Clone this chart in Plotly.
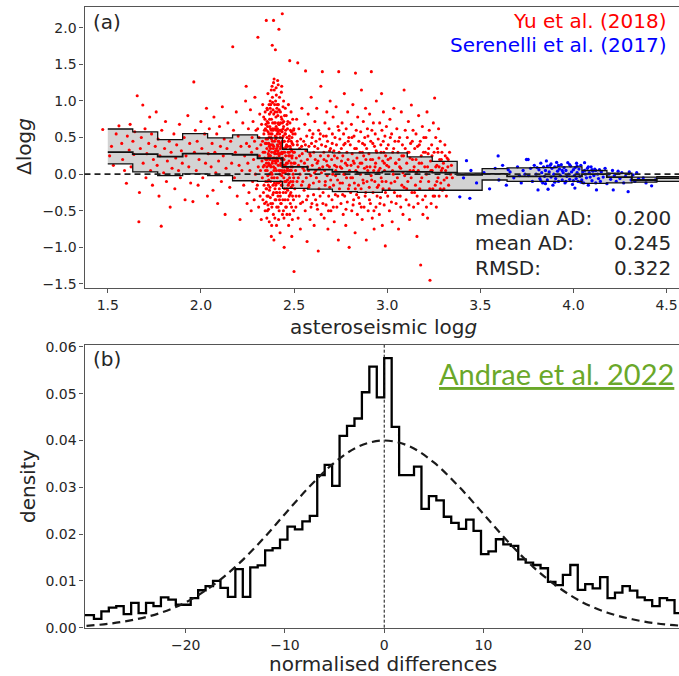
import numpy as np
import plotly.graph_objects as go

# ---------------- data: panel (a) ----------------
red_points = [
    (1.473,0.61),(1.52,0.38),(1.53,0.12),(1.545,0.55),(1.51,0.25),
    (1.56,0.66),(1.575,0.42),(1.58,0.2),(1.59,0.05),(1.60,-0.125),(1.605,0.52),(1.615,0.33),(1.62,0.68),(1.625,0.1),(1.635,0.45),(1.64,0.27),(1.645,0.58),
    (1.658,1.07),(1.667,-0.65),(1.67,-0.25),(1.675,0.35),(1.68,0.5),(1.688,0.945),(1.69,0.15),(1.70,0.62),(1.705,-0.05),(1.71,0.28),(1.72,0.42),(1.725,0.78),(1.73,0.05),(1.735,0.55),(1.74,-0.15),(1.745,0.2),
    (1.755,0.38),(1.76,0.85),(1.765,0.12),(1.77,0.48),(1.775,-0.3),(1.78,0.25),(1.787,-0.71),(1.79,0.6),(1.80,0.02),(1.805,0.35),(1.81,0.72),(1.815,-0.1),(1.82,0.18),(1.83,0.45),(1.835,-0.45),(1.84,0.3),(1.845,0.08),
    (1.855,0.55),(1.86,-0.2),(1.865,0.22),(1.87,0.4),(1.88,0.05),(1.885,0.68),(1.89,-0.05),(1.895,0.32),(1.90,0.15),(1.91,0.5),(1.915,-0.35),(1.92,0.25),(1.93,0.8),(1.935,0.1),(1.94,0.42),(1.945,-0.12),
    (1.957,-0.375),(1.962,1.26),(1.965,0.3),(1.97,0.6),(1.975,0.05),(1.98,0.45),(1.985,-0.15),(1.99,0.2),(2.0,0.72),(2.005,0.35),(2.01,-0.05),(2.02,0.55),(2.025,0.15),(2.03,0.9),(2.035,-0.3),(2.04,0.28),(2.045,0.62),
    (2.055,0.1),(2.06,0.42),(2.065,-0.22),(2.07,0.78),(2.075,0.3),(2.08,0.02),(2.085,0.55),(2.09,-0.4),(2.095,0.18),(2.10,0.65),(2.105,0.38),(2.11,-0.1),(2.115,0.92),(2.12,0.25),(2.125,0.48),(2.13,-0.55),(2.135,0.08),(2.14,0.35),(2.145,0.7),
    (2.155,-0.18),(2.16,0.45),(2.165,0.15),(2.171,1.74),(2.175,0.6),(2.18,-0.05),(2.185,0.3),(2.19,0.85),(2.195,-0.3),(2.20,0.52),(2.205,0.12),(2.21,-0.62),(2.215,0.38),(2.22,0.05),(2.225,0.7),(2.23,-0.15),(2.235,0.25),(2.24,1.0),(2.243,1.2),(2.245,0.42),(2.248,-0.4),
    (2.252,0.15),(2.255,0.62),(2.258,-0.25),(2.26,0.38),(2.263,0.05),(2.266,0.88),(2.27,-0.5),(2.272,0.3),(2.275,0.5),(2.278,-0.1),(2.28,0.72),(2.283,0.2),(2.286,-0.35),(2.288,0.45),(2.29,1.05),(2.293,0.0),(2.296,0.6),(2.298,-0.2),
    (2.301,0.35),(2.303,-0.15),(2.305,0.62),(2.306,1.87),(2.308,0.1),(2.31,-0.45),(2.312,0.5),(2.314,0.25),(2.316,0.82),(2.318,-0.3),(2.32,0.05),(2.322,0.4),(2.324,-0.62),(2.326,0.68),(2.328,0.18),(2.33,-0.05),(2.332,0.95),(2.334,0.3),(2.336,-0.25),(2.338,0.55),(2.34,0.12),(2.342,-0.4),(2.344,0.75),(2.346,0.42),(2.348,-0.1),(2.349,0.2),
    (2.351,2.10),(2.352,0.6),(2.353,-0.2),(2.354,0.35),(2.355,0.9),(2.356,0.05),(2.357,-0.5),(2.358,0.48),(2.359,0.22),(2.36,1.1),(2.361,-0.3),(2.362,0.7),(2.363,0.15),(2.364,-0.08),(2.365,0.55),(2.366,0.32),(2.367,-0.65),(2.368,0.82),(2.369,0.0),(2.37,0.4),(2.371,-0.18),(2.372,1.0),(2.373,0.25),(2.374,0.62),(2.375,-0.4),(2.376,0.1),(2.377,0.5),(2.378,-0.85),(2.379,0.75),(2.38,0.3),(2.381,-0.05),(2.382,1.2),(2.383,1.76),(2.384,0.45),(2.385,0.18),(2.386,-0.28),(2.387,0.88),(2.388,0.6),(2.389,-0.55),(2.39,2.10),(2.391,0.38),(2.392,0.05),(2.393,1.3),(2.394,0.7),(2.395,-0.12),(2.396,0.95),(2.397,0.28),(2.398,-0.35),(2.399,0.52),(2.40,1.70),
    (2.352,0.15),(2.356,0.72),(2.36,-0.42),(2.364,0.42),(2.368,-0.22),(2.372,0.12),(2.376,0.85),(2.38,-0.7),(2.384,1.05),(2.388,0.22),(2.392,-0.9),(2.396,0.62),(2.358,-0.1),(2.366,0.95),(2.374,0.35),(2.382,0.55),(2.39,-0.25),(2.398,0.08),(2.354,-0.6),(2.37,0.65),(2.386,0.4),(2.394,1.15),(2.362,0.28),(2.378,0.02),(2.35,0.48),
    (2.401,0.32),(2.402,-0.15),(2.403,0.78),(2.404,1.18),(2.405,0.05),(2.406,0.5),(2.407,-0.45),(2.408,0.9),(2.409,0.2),(2.41,-0.05),(2.411,0.62),(2.412,1.28),(2.413,0.38),(2.414,-0.3),(2.415,0.12),(2.416,0.7),(2.417,-0.62),(2.418,0.45),(2.419,1.98),(2.42,0.25),(2.421,-0.2),(2.422,1.05),(2.423,0.55),(2.424,0.0),(2.425,-0.8),(2.426,0.35),(2.427,0.85),(2.428,-0.1),(2.429,0.6),(2.43,0.15),(2.431,-0.4),(2.432,1.12),(2.433,0.42),(2.434,-0.02),(2.435,0.75),(2.436,0.28),(2.437,2.19),(2.438,-0.55),(2.439,0.5),(2.44,0.1),(2.441,0.92),(2.442,-0.25),(2.443,0.3),(2.444,0.65),(2.445,-0.05),(2.446,0.2),(2.447,-1.0),(2.448,0.45),(2.449,0.8),
    (2.404,0.65),(2.408,-0.25),(2.412,0.18),(2.416,0.95),(2.42,-0.5),(2.424,0.42),(2.428,0.7),(2.432,-0.15),(2.436,0.58),(2.44,-0.35),(2.444,1.0),(2.448,0.05),(2.402,0.48),(2.406,-0.7),(2.41,0.85),(2.414,0.32),(2.418,-0.12),(2.422,0.6),(2.426,-0.3),(2.43,0.38),(2.434,1.2),(2.438,0.22),(2.442,0.52),(2.446,-0.6),(2.45,0.3),
    (2.451,0.12),(2.452,-0.35),(2.454,0.55),(2.455,0.25),(2.457,-0.1),(2.458,0.8),(2.46,0.4),(2.462,-0.55),(2.463,0.05),(2.465,0.62),(2.466,-0.22),(2.468,0.3),(2.47,0.95),(2.471,-0.7),(2.473,0.18),(2.474,0.48),(2.476,-0.05),(2.477,1.55),(2.478,0.7),(2.48,-0.4),(2.482,0.35),(2.483,0.1),(2.485,-0.18),(2.486,0.58),(2.488,-0.85),(2.489,0.22),(2.49,0.42),(2.492,-0.3),(2.493,0.75),(2.495,0.0),(2.496,0.3),(2.498,-0.5),(2.499,0.15),(2.50,-1.33),
    (2.453,0.9),(2.459,-0.45),(2.464,0.15),(2.469,-0.15),(2.475,0.52),(2.481,0.05),(2.487,0.32),(2.491,-0.62),(2.497,0.6),(2.456,-0.25),(2.467,0.72),(2.479,-0.28),(2.484,0.85),(2.494,-0.1),
    (2.331,0.45),(2.333,-0.35),(2.335,0.1),(2.337,0.78),(2.339,-0.15),(2.341,0.6),(2.343,0.3),(2.345,-0.5),(2.347,0.05),(2.349,0.68),
    (2.351,-0.38),(2.353,0.42),(2.355,0.2),(2.357,0.88),(2.359,-0.02),(2.361,0.58),(2.363,-0.48),(2.365,0.12),(2.367,0.38),(2.369,0.75),
    (2.371,0.25),(2.373,-0.32),(2.375,0.95),(2.377,0.02),(2.379,0.48),(2.381,-0.45),(2.383,0.15),(2.385,0.7),(2.387,-0.15),(2.389,0.35),
    (2.391,0.82),(2.393,-0.05),(2.395,0.45),(2.397,-0.6),(2.399,0.18),(2.401,1.0),(2.403,-0.35),(2.405,0.6),(2.407,0.22),(2.409,-0.12),
    (2.411,0.4),(2.413,0.8),(2.415,-0.45),(2.417,0.28),(2.419,0.05),(2.421,0.68),(2.423,-0.25),(2.425,0.5),(2.427,0.12),(2.429,-0.4),
    (2.431,0.78),(2.433,0.2),(2.435,-0.15),(2.437,0.45),(2.439,0.02),(2.441,0.62),(2.443,-0.5),(2.445,0.35),(2.447,0.1),(2.449,-0.2),
    (2.451,0.55),(2.453,0.02),(2.455,-0.45),(2.457,0.38),(2.459,0.15),(2.461,-0.2),(2.463,0.68),(2.465,0.08),(2.467,-0.35),(2.469,0.45),
    (2.471,0.25),(2.473,-0.12),(2.475,0.05),(2.477,-0.55),(2.479,0.38),(2.481,0.6),(2.483,-0.25),(2.485,0.15),(2.487,-0.45),(2.489,0.5),
    (2.491,0.1),(2.493,-0.15),(2.495,0.4),(2.497,-0.35),(2.499,0.62),
    (2.372,0.9),(2.378,1.15),(2.385,0.98),(2.39,1.25),(2.398,0.85),(2.405,1.08),(2.41,0.95),(2.415,1.22),(2.42,0.88),(2.378,0.6),(2.4,0.7),(2.41,0.55),
    (2.342,0.22),(2.346,0.62),(2.35,-0.2),(2.354,0.1),(2.358,0.65),(2.362,-0.15),(2.366,0.5),(2.37,0.2),(2.374,-0.1),(2.378,0.4),
    (2.382,0.0),(2.386,0.62),(2.39,0.1),(2.394,0.3),(2.398,-0.2),(2.402,0.15),(2.406,0.35),(2.41,0.28),(2.414,0.58),(2.418,0.68),
    (2.422,-0.35),(2.426,0.05),(2.43,0.6),(2.434,0.3),(2.438,0.7),(2.442,0.12),(2.446,0.45),(2.45,-0.1),(2.454,0.35),(2.458,0.1),
    (2.462,0.5),(2.466,0.38),(2.47,0.0),(2.474,-0.3),(2.478,0.25),(2.482,-0.1),(2.486,0.05),(2.49,0.25),(2.494,0.55),(2.498,-0.05),
    (2.345,0.85),(2.355,-0.3),(2.365,0.25),(2.375,0.55),(2.385,-0.4),(2.395,0.22),(2.405,-0.25),(2.415,0.45),(2.425,0.28),(2.435,0.05),
    (2.445,0.72),(2.455,0.6),(2.465,-0.08),(2.475,0.3),(2.485,0.45),
    (2.502,0.3),(2.504,-0.2),(2.506,0.55),(2.508,0.05),(2.51,-0.45),(2.512,0.22),(2.514,0.75),(2.516,-0.1),(2.518,0.4),(2.52,1.52),(2.522,-0.6),(2.524,0.12),(2.526,0.62),(2.528,-0.3),(2.53,0.35),(2.532,0.0),(2.534,-0.75),(2.536,0.48),(2.538,0.18),(2.54,-0.15),(2.542,0.9),(2.544,0.28),(2.546,-0.38),(2.548,0.08),
    (2.552,0.45),(2.554,-0.22),(2.556,0.15),(2.558,0.68),(2.56,-0.5),(2.562,1.41),(2.564,0.32),(2.566,-0.05),(2.568,0.52),(2.57,-0.92),(2.572,0.2),(2.574,-0.3),(2.576,0.82),(2.578,0.05),(2.58,0.38),(2.582,-0.15),(2.584,0.6),(2.586,-0.62),(2.588,0.25),(2.59,-0.02),(2.592,1.05),(2.594,0.42),(2.596,-0.4),(2.598,0.12),
    (2.602,0.55),(2.604,-0.12),(2.606,0.3),(2.608,-0.7),(2.61,0.02),(2.612,0.72),(2.614,0.2),(2.616,-0.35),(2.618,0.45),(2.62,-0.05),(2.622,0.9),(2.624,0.15),(2.626,-0.48),(2.628,0.35),(2.63,-1.05),(2.632,0.6),(2.634,-0.2),(2.636,0.08),(2.638,0.48),(2.64,-0.3),(2.642,0.25),(2.644,1.2),(2.646,-0.55),(2.648,0.4),
    (2.652,1.40),(2.654,0.1),(2.656,-0.25),(2.658,0.52),(2.66,0.3),(2.662,-0.6),(2.664,0.05),(2.666,0.7),(2.668,-0.1),(2.67,0.38),(2.672,-0.42),(2.674,0.18),(2.676,0.85),(2.678,-0.02),(2.68,0.45),(2.682,-0.75),(2.684,0.25),(2.686,-0.3),(2.688,0.62),(2.69,0.1),(2.692,-0.18),(2.694,1.0),(2.696,0.35),(2.698,-0.5),
    (2.702,0.2),(2.704,-0.35),(2.706,0.55),(2.708,0.0),(2.71,0.78),(2.712,-0.15),(2.714,0.32),(2.716,-0.65),(2.718,0.12),(2.72,0.5),(2.722,-0.28),(2.724,0.05),(2.726,0.92),(2.728,0.4),(2.73,-0.45),(2.732,0.22),(2.734,-0.08),(2.736,0.65),(2.738,-0.9),(2.74,1.40),(2.742,0.3),(2.744,-0.2),(2.746,0.48),(2.748,0.1),
    (2.752,-0.4),(2.754,0.35),(2.756,0.08),(2.758,0.7),(2.76,-0.12),(2.762,0.25),(2.764,-0.55),(2.766,0.55),(2.768,0.0),(2.77,1.1),(2.772,-0.3),(2.774,0.42),(2.776,0.15),(2.778,-0.7),(2.78,0.62),(2.782,-0.05),(2.784,0.3),(2.786,-0.38),(2.788,0.85),(2.79,0.2),(2.792,-0.2),(2.794,0.5),(2.796,-1.0),(2.798,0.05),
    (2.802,0.4),(2.804,-0.25),(2.806,0.12),(2.808,0.68),(2.81,-0.5),(2.812,0.28),(2.814,-0.05),(2.816,0.95),(2.818,0.18),(2.82,-0.35),(2.822,0.52),(2.824,-0.12),(2.826,0.35),(2.828,-0.8),(2.83,1.38),(2.832,0.05),(2.834,0.6),(2.836,-0.28),(2.838,0.22),(2.84,-0.55),(2.842,0.78),(2.844,0.1),(2.846,-0.15),(2.848,0.45),
    (2.852,-0.4),(2.854,0.3),(2.856,0.0),(2.858,0.58),(2.86,-0.2),(2.862,1.15),(2.864,0.15),(2.866,-0.62),(2.868,0.42),(2.87,-0.08),(2.872,0.72),(2.874,0.25),(2.876,-0.45),(2.878,0.08),(2.88,0.5),(2.882,-0.3),(2.884,0.9),(2.886,0.2),(2.888,-0.9),(2.89,0.35),(2.892,-0.1),(2.894,0.62),(2.896,0.05),(2.898,-0.5),
    (2.902,0.28),(2.904,-0.18),(2.906,0.82),(2.908,0.1),(2.91,-0.4),(2.912,0.45),(2.914,-0.02),(2.915,1.40),(2.918,0.6),(2.92,-0.6),(2.922,0.2),(2.924,-0.25),(2.926,0.7),(2.928,0.05),(2.93,-0.75),(2.932,0.38),(2.934,-0.1),(2.936,0.55),(2.938,0.15),(2.94,-0.45),(2.942,1.0),(2.944,0.3),(2.946,-0.3),(2.948,0.02),
    (2.952,0.48),(2.954,-0.15),(2.956,0.22),(2.958,-0.55),(2.96,0.7),(2.962,0.08),(2.964,-0.32),(2.966,0.4),(2.968,-0.05),(2.97,1.10),(2.972,0.6),(2.974,-0.7),(2.976,0.18),(2.978,-0.2),(2.98,0.85),(2.982,0.3),(2.984,-0.42),(2.986,0.05),(2.988,0.52),(2.99,-0.98),(2.992,0.25),(2.994,-0.1),(2.996,0.65),(2.998,0.12),
    (2.505,0.15),(2.511,-0.3),(2.517,0.45),(2.523,-0.05),(2.529,0.25),(2.535,-0.4),(2.541,0.38),(2.547,-0.1),
    (2.555,0.05),(2.561,0.4),(2.567,-0.35),(2.573,0.1),(2.579,-0.18),(2.585,0.28),(2.591,-0.45),(2.597,0.5),
    (2.605,-0.28),(2.611,0.38),(2.617,0.05),(2.623,-0.42),(2.629,0.18),(2.635,-0.1),(2.641,0.55),(2.647,0.02),
    (2.655,-0.4),(2.661,0.2),(2.667,-0.15),(2.673,0.52),(2.679,0.12),(2.685,-0.5),(2.691,0.32),(2.697,-0.08),
    (2.705,0.42),(2.711,-0.45),(2.717,0.25),(2.723,-0.02),(2.729,0.1),(2.735,-0.3),(2.741,0.6),(2.747,-0.12),
    (2.755,0.18),(2.761,-0.28),(2.767,0.4),(2.773,0.0),(2.779,-0.48),(2.785,0.12),(2.791,0.45),(2.797,-0.15),
    (2.805,-0.05),(2.811,0.5),(2.817,-0.42),(2.823,0.15),(2.829,-0.2),(2.835,0.35),(2.841,0.02),(2.847,-0.32),
    (2.855,0.15),(2.861,-0.45),(2.867,0.3),(2.873,-0.12),(2.879,0.4),(2.885,-0.25),(2.891,0.1),(2.897,0.52),
    (2.905,-0.35),(2.911,0.2),(2.917,-0.08),(2.923,0.42),(2.929,-0.5),(2.935,0.1),(2.941,0.32),(2.947,-0.18),
    (2.955,0.05),(2.961,-0.4),(2.967,0.3),(2.973,-0.1),(2.979,0.45),(2.985,0.15),(2.991,-0.25),(2.997,0.35),
    (3.003,-0.3),(3.006,0.4),(3.009,0.1),(3.012,-0.5),(3.015,0.75),(3.018,0.22),(3.021,-0.12),(3.024,0.55),(3.027,-0.65),(3.03,0.3),(3.033,0.0),(3.036,0.9),(3.039,-0.25),(3.042,0.45),(3.045,0.15),(3.048,-0.4),
    (3.052,0.62),(3.055,-0.05),(3.058,0.3),(3.061,-0.75),(3.064,0.2),(3.067,0.5),(3.07,-0.3),(3.073,0.08),(3.076,0.85),(3.079,-0.15),(3.082,0.4),(3.085,-0.55),(3.088,0.25),(3.091,1.15),(3.094,-0.02),(3.097,0.6),
    (3.102,-0.35),(3.105,0.15),(3.108,0.5),(3.111,-0.1),(3.114,0.72),(3.117,0.3),(3.12,-0.62),(3.123,0.05),(3.126,0.42),(3.13,0.945),(3.133,-0.25),(3.136,0.2),(3.139,0.6),(3.142,-0.45),(3.145,0.1),(3.148,0.35),
    (3.152,-0.15),(3.155,0.55),(3.158,0.02),(3.16,-0.85),(3.163,0.38),(3.166,-0.4),(3.169,0.8),(3.172,0.15),(3.175,-0.2),(3.178,0.45),(3.18,-1.24),(3.183,0.25),(3.186,-0.05),(3.189,0.65),(3.192,-0.55),(3.195,0.3),
    (3.202,0.1),(3.205,-0.3),(3.208,0.5),(3.211,0.0),(3.214,0.85),(3.217,-0.6),(3.22,0.28),(3.223,-0.1),(3.226,0.6),(3.23,-1.45),(3.233,0.18),(3.236,-0.4),(3.239,0.4),(3.242,0.05),(3.245,-0.2),(3.248,0.7),
    (3.252,0.3),(3.255,1.04),(3.258,-0.15),(3.261,0.5),(3.264,-0.45),(3.267,0.12),(3.27,0.35),(3.273,-0.05),(3.276,0.62),(3.279,-0.3),(3.282,0.2),(3.285,0.45),(3.288,-0.12),(3.291,0.05),(3.294,0.3),(3.297,-0.22),
    (3.302,0.15),(3.306,-0.08),(3.31,0.4),(3.314,0.05),(3.318,-0.3),(3.322,0.22),(3.326,0.1),(3.33,-0.15),(3.335,0.3),(3.34,0.0),(3.345,0.12),(3.35,-0.05),
    (3.005,0.2),(3.011,-0.2),(3.017,0.5),(3.023,-0.38),(3.029,0.05),(3.035,0.35),(3.041,-0.1),(3.047,0.15),
    (3.055,-0.3),(3.061,0.45),(3.067,0.1),(3.073,-0.45),(3.079,0.25),(3.085,0.02),(3.091,-0.18),(3.097,0.35),
    (3.105,-0.2),(3.111,0.3),(3.117,-0.42),(3.123,0.22),(3.129,-0.05),(3.135,0.45),(3.141,0.05),(3.147,-0.25),
    (3.155,0.2),(3.161,-0.3),(3.167,0.05),(3.173,0.4),(3.179,-0.1),(3.185,0.15),(3.191,-0.35),(3.197,0.5),
    (3.205,0.3),(3.211,-0.45),(3.217,0.1),(3.223,0.35),(3.229,-0.2),(3.235,0.05),(3.241,0.25),(3.247,-0.3),
    (3.255,-0.3),(3.261,0.1),(3.267,-0.1),(3.273,0.3),(3.279,0.1),(3.285,-0.2),(3.291,0.2),(3.297,0.08),
    (3.305,-0.2),(3.312,0.25),(3.32,-0.05),(3.328,0.2),
]

blue_points = [
    (3.39,-0.31),(3.426,0.184),(3.444,-0.33),(3.41,-0.05),(3.45,0.05),(3.48,-0.12),(3.52,0.02),(3.55,-0.2),(3.58,0.08),(3.596,0.249),
    (3.6,-0.08),(3.62,0.12),(3.64,-0.15),(3.66,0.03),(3.68,-0.05),(3.7,0.1),(3.72,-0.12),(3.73,0.05),(3.748,0.2),(3.757,0.2),
    (3.76,-0.02),(3.77,0.08),(3.78,-0.1),(3.79,0.12),(3.80,0.0),(3.81,-0.216),(3.815,0.06),(3.82,-0.06),(3.825,0.15),(3.83,0.02),
    (3.835,-0.12),(3.84,0.1),(3.845,-0.03),(3.85,0.05),(3.855,0.18),(3.86,-0.08),(3.864,-0.206),(3.87,0.03),(3.875,0.12),(3.88,-0.04),
    (3.885,0.08),(3.89,-0.15),(3.895,0.0),(3.90,0.1),(3.905,-0.06),(3.91,0.16),(3.915,0.04),(3.92,-0.1),(3.925,0.07),(3.93,-0.02),
    (3.935,0.13),(3.94,-0.08),(3.945,0.02),(3.95,0.09),(3.955,-0.12),(3.96,0.05),(3.965,-0.03),(3.97,0.157),(3.975,0.0),(3.98,-0.07),
    (3.985,0.11),(3.99,0.03),(3.995,-0.14),(4.0,0.06),(4.005,-0.02),(4.008,-0.19),(4.01,0.09),(4.015,-0.06),(4.017,0.149),(4.02,0.02),
    (4.025,-0.1),(4.03,0.07),(4.035,-0.03),(4.04,0.12),(4.045,-0.08),(4.05,0.03),(4.055,-0.12),(4.06,0.157),(4.065,0.0),(4.07,-0.05),
    (4.075,0.08),(4.08,-0.15),(4.085,0.02),(4.09,-0.04),(4.095,0.1),(4.10,-0.09),(4.105,0.04),(4.11,-0.02),(4.115,0.07),(4.12,-0.12),
    (4.124,-0.216),(4.13,0.0),(4.135,-0.06),(4.14,0.06),(4.145,-0.1),(4.15,0.03),(4.16,-0.04),(4.17,0.08),(4.18,-0.13),(4.19,0.0),
    (4.2,-0.07),(4.21,0.05),(4.214,-0.216),(4.22,-0.02),(4.23,-0.1),(4.24,0.04),(4.25,-0.06),(4.26,0.02),(4.27,-0.12),(4.28,-0.03),
    (4.294,-0.24),(4.30,0.03),(4.31,-0.08),(4.32,-0.01),(4.33,-0.1),(4.34,0.02),(4.35,-0.06),(4.375,-0.05),(4.39,-0.12),(4.42,-0.16),(4.44,-0.08),
    (3.805,0.09),(3.825,-0.09),(3.85,-0.13),(3.88,0.14),(3.9,-0.11),(3.92,0.12),(3.94,0.05),(3.96,-0.1),(3.98,0.13),(4.0,-0.09),
    (4.02,0.11),(4.04,-0.11),(4.06,0.05),(4.08,0.1),(4.1,0.06),(4.12,0.05),(3.86,0.11),(3.74,0.0),(3.71,-0.02),(3.65,0.06),
]

band_edges = [1.500, 1.634, 1.768, 1.902, 2.036, 2.170, 2.304, 2.438, 2.572, 2.706, 2.840, 2.974,
              3.108, 3.242, 3.376, 3.510, 3.644, 3.778, 3.912, 4.046, 4.180, 4.314, 4.448, 4.582]
band_lower = [0.139, 0.03, -0.02, 0.003, -0.02, -0.09, -0.10, -0.195, -0.205, -0.24, -0.25, -0.22,
              -0.22, -0.22, -0.22, -0.08, -0.10, -0.10, -0.10, -0.125, -0.12, -0.11, -0.10]
band_median = [0.30, 0.274, 0.239, 0.28, 0.276, 0.265, 0.217, 0.10, 0.062, 0.03, 0.02, 0.035,
               0.03, 0.02, -0.01, 0.003, -0.03, -0.03, -0.03, 0.0, -0.04, -0.08, -0.055]
band_upper = [0.617, 0.577, 0.472, 0.554, 0.495, 0.536, 0.495, 0.34, 0.30, 0.29, 0.29, 0.29,
              0.235, 0.175, 0.015, 0.075, 0.085, 0.09, 0.10, 0.05, 0.012, -0.04, -0.035]

stats_labels = ["median AD:", "mean AD:", "RMSD:"]
stats_values = ["0.200", "0.245", "0.322"]
xticks_a = [1.5, 2.0, 2.5, 3.0, 3.5, 4.0, 4.5]
yticks_a = [-1.5, -1.0, -0.5, 0.0, 0.5, 1.0, 1.5, 2.0]

# ---------------- data: panel (b) ----------------
hist_first_edge = -30.75
hist_bin_width = 0.75
hist_density = [
    0.0027, 0.0027, 0.0019, 0.0035, 0.0043, 0.0046, 0.0029, 0.0053, 0.0031, 0.0053,
    0.0046, 0.0065, 0.0060, 0.0049, 0.0049, 0.0063, 0.0080, 0.0089, 0.0100, 0.0085,
    0.0066, 0.0125, 0.0066, 0.0129, 0.0133, 0.0165, 0.0170, 0.0188, 0.0216, 0.0210,
    0.0227, 0.0239, 0.0326, 0.0348, 0.0303, 0.0410, 0.0431, 0.0447, 0.0503, 0.0558,
    0.0492,
    0.0576, 0.0429, 0.0326, 0.0326, 0.0344, 0.0254, 0.0281, 0.0272, 0.0237, 0.0224,
    0.0211, 0.0231, 0.0207, 0.0157, 0.0163, 0.0189, 0.0178, 0.0175, 0.0146, 0.0139,
    0.0134, 0.0127, 0.0098, 0.0091, 0.0113, 0.0134, 0.0081, 0.0093, 0.0084, 0.0108,
    0.0063, 0.0075, 0.0089, 0.0079, 0.0065, 0.0059, 0.0046, 0.0063, 0.0059, 0.0031,
]
gauss_x = [-30, -27.5, -25, -22.5, -20, -17.5, -15, -12.5, -10, -7.5, -5, -2.5, 0,
           2.5, 5, 7.5, 10, 12.5, 15, 17.5, 20, 22.5, 25, 27.5, 30]
gauss_y = [0.0004, 0.0009, 0.0018, 0.0032, 0.0054, 0.0087, 0.0130, 0.0183, 0.0243, 0.0302, 0.0353, 0.0388, 0.0400,
           0.0388, 0.0353, 0.0302, 0.0243, 0.0183, 0.0130, 0.0087, 0.0054, 0.0032, 0.0018, 0.0009, 0.0004]
xticks_b = [-20, -10, 0, 10, 20]
yticks_b = [0.00, 0.01, 0.02, 0.03, 0.04, 0.05, 0.06]

# ---------------- build figure ----------------
W, H = 679, 676
FONT = "DejaVu Sans"
TXT = "#262626"
AX = "#555555"

fig = go.Figure()

def step(vals):
    return list(vals) + [vals[-1]]

# band fill
fig.add_trace(go.Scatter(x=band_edges, y=step(band_upper), mode="lines", line=dict(width=0, shape="hv"),
                         xaxis="x", yaxis="y", hoverinfo="skip"))
fig.add_trace(go.Scatter(x=band_edges, y=step(band_lower), mode="lines", line=dict(width=0, shape="hv"),
                         fill="tonexty", fillcolor="#d3d3d3", xaxis="x", yaxis="y", hoverinfo="skip"))
# scatter
rx, ry = zip(*red_points)
bx, by = zip(*blue_points)
fig.add_trace(go.Scatter(x=rx, y=ry, mode="markers", marker=dict(color="#ff0000", size=3.1, line=dict(width=0)),
                         xaxis="x", yaxis="y"))
fig.add_trace(go.Scatter(x=bx, y=by, mode="markers", marker=dict(color="#0000ff", size=3.3, line=dict(width=0)),
                         xaxis="x", yaxis="y"))
# band lines
for vals, w in [(band_upper, 1.3), (band_lower, 1.3), (band_median, 1.8)]:
    fig.add_trace(go.Scatter(x=band_edges, y=step(vals), mode="lines",
                             line=dict(color="#111111", width=w, shape="hv"), xaxis="x", yaxis="y"))

# histogram
edges = [hist_first_edge + hist_bin_width * i for i in range(len(hist_density) + 1)]
fig.add_trace(go.Scatter(x=edges, y=step(hist_density), mode="lines",
                         line=dict(color="black", width=2.3, shape="hv"), xaxis="x2", yaxis="y2"))
fig.add_trace(go.Scatter(x=gauss_x, y=gauss_y, mode="lines",
                         line=dict(color="#1a1a1a", width=2.2, dash="8px,5px", shape="spline"),
                         xaxis="x2", yaxis="y2"))

xdom = [84.5 / W, 1.0]
ydom_a = [1 - 288.3 / H, 1 - 6.7 / H]
ydom_b = [1 - 627.7 / H, 1 - 345.0 / H]

axis_common = dict(showline=True, linecolor=AX, linewidth=1.2, ticks="outside", ticklen=4,
                   tickcolor=AX, tickwidth=1, showgrid=False, zeroline=False, automargin=False,
                   tickfont=dict(family=FONT, size=14, color=TXT))

fig.update_layout(
    template="none",
    width=W, height=H, margin=dict(l=0, r=0, t=0, b=0, pad=0, autoexpand=False),
    paper_bgcolor="white", plot_bgcolor="white", showlegend=False,
    xaxis=dict(domain=xdom, range=[1.375, 4.567], anchor="y", mirror=True,
               tickvals=xticks_a, ticktext=[f"{v:.1f}" for v in xticks_a], **axis_common),
    yaxis=dict(domain=ydom_a, range=[-1.559, 2.287], anchor="x",
               tickvals=yticks_a, ticktext=[f"{v:.1f}".replace("-", "\u2212") for v in yticks_a], **axis_common),
    xaxis2=dict(domain=xdom, range=[-30.2, 29.7], anchor="y2", mirror=True,
                tickvals=xticks_b, ticktext=[str(v).replace("-", "\u2212") for v in xticks_b], **axis_common),
    yaxis2=dict(domain=ydom_b, range=[0, 0.0604], anchor="x2",
                tickvals=yticks_b, ticktext=[f"{v:.2f}" for v in yticks_b], **axis_common),
)

# reference lines
fig.add_shape(type="line", xref="x domain", x0=0, x1=1, yref="y", y0=0, y1=0,
              line=dict(color="#222222", width=1.6, dash="6px,4px"), layer="above")
fig.add_shape(type="line", xref="x2", x0=0, x1=0, yref="y2 domain", y0=0, y1=1,
              line=dict(color="#111111", width=1, dash="3px,2px"), layer="above")

def px(x):
    return x / W

def py(y):
    return 1 - y / H

annots = [
    dict(text="(a)", x=px(91), y=py(22), xanchor="left", yanchor="middle", font=dict(size=20)),
    dict(text="(b)", x=px(91), y=py(359), xanchor="left", yanchor="middle", font=dict(size=20)),
    dict(text="Yu et al. (2018)", x=px(669), y=py(21), xanchor="right", yanchor="middle",
         font=dict(size=20, color="#ff0000")),
    dict(text="Serenelli et al. (2017)", x=px(669), y=py(45), xanchor="right", yanchor="middle",
         font=dict(size=20, color="#0000ff")),
    dict(text="asteroseismic log<i>g</i>", x=px(383), y=py(327), xanchor="center", yanchor="middle",
         font=dict(size=20)),
    dict(text="\u0394log<i>g</i>", x=px(24), y=py(147), xanchor="center", yanchor="middle",
         textangle=-90, font=dict(size=20)),
    dict(text="density", x=px(28), y=py(487), xanchor="center", yanchor="middle",
         textangle=-90, font=dict(size=20)),
    dict(text="normalised differences", x=px(383), y=py(664), xanchor="center", yanchor="middle",
         font=dict(size=20)),
    dict(text="<u>Andrae et al. 2022</u>", x=px(676), y=py(373), xanchor="right", yanchor="middle",
         font=dict(size=29, family="Lato", color="#6aa82a")),
]
for i, (lab, val) in enumerate(zip(stats_labels, stats_values)):
    yy = 218 + 24.8 * i
    annots.append(dict(text=lab, x=px(473), y=py(yy), xanchor="left", yanchor="middle", font=dict(size=20)))
    annots.append(dict(text=val, x=px(673), y=py(yy), xanchor="right", yanchor="middle", font=dict(size=20)))

for a in annots:
    f = dict(family=FONT, color=TXT)
    f.update(a.get("font", {}))
    a["font"] = f
    a.update(xref="paper", yref="paper", showarrow=False)
    fig.add_annotation(**a)

fig.write_html("out.html")
